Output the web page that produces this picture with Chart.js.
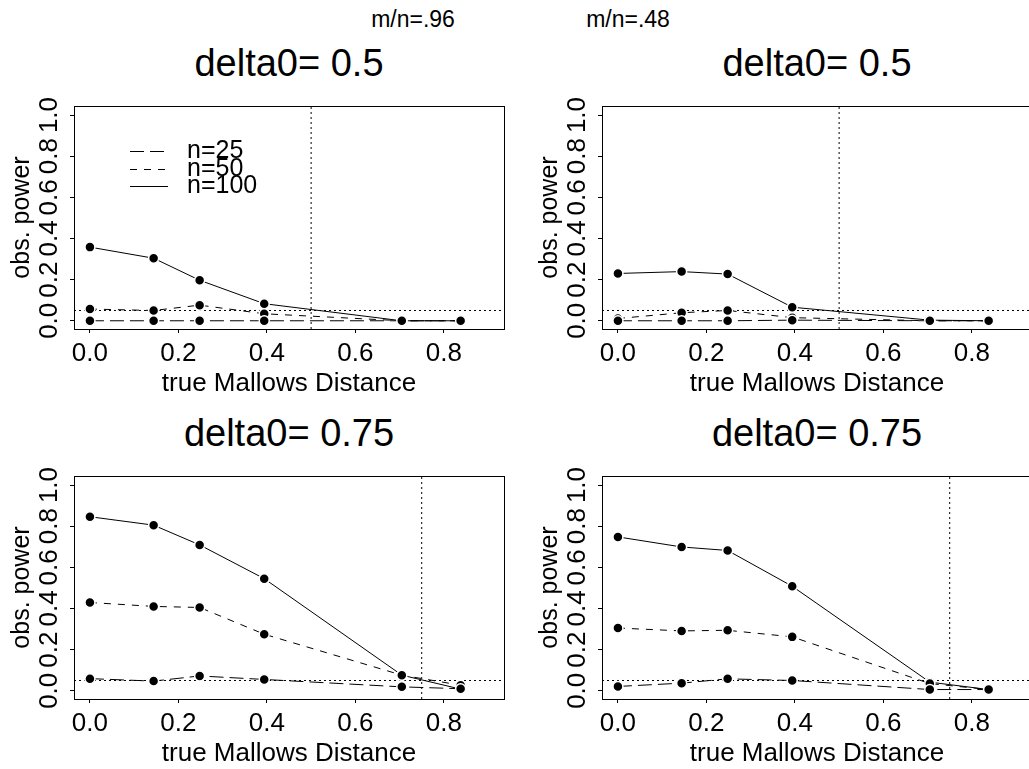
<!DOCTYPE html>
<html lang="en">
<head>
<meta charset="UTF-8">
<title>obs. power vs true Mallows Distance</title>
<script src="https://cdn.jsdelivr.net/npm/chart.js"></script>
<style>
  body { margin: 0; width: 1029px; height: 769px; overflow: hidden; background: #fff;
         font-family: "Liberation Sans", Arial, Helvetica, sans-serif; position: relative; }
  canvas { position: absolute; }
  .lbl { position: absolute; transform: translate(-50%, -50%); line-height: 1; white-space: nowrap; color: #000; }
  .title { font-size: 38px; }
  .mn { font-size: 23px; }
</style>
</head>
<body>
<div class="lbl mn" style="left:413px;top:19px">m/n=.96</div>
<div class="lbl mn" style="left:628px;top:19px">m/n=.48</div>
<div class="lbl title" style="left:289px;top:63px">delta0= 0.5</div>
<div class="lbl title" style="left:817px;top:63px">delta0= 0.5</div>
<div class="lbl title" style="left:289px;top:433px">delta0= 0.75</div>
<div class="lbl title" style="left:817px;top:433px">delta0= 0.75</div>

<canvas id="c1" width="514" height="410" style="left:0;top:0"></canvas>
<canvas id="c2" width="504" height="410" style="left:528px;top:0"></canvas>
<canvas id="c3" width="514" height="410" style="left:0;top:370px"></canvas>
<canvas id="c4" width="504" height="410" style="left:528px;top:370px"></canvas>

<script>
// true Mallows distance of the simulated alternatives
const distance = [0, 0.144, 0.248, 0.394, 0.705, 0.838];

// m/n=.96, delta0=0.5
const p1n25  = [0, 0, 0, 0, 0, 0];
const p1n50  = [0.057, 0.05, 0.076, 0.034, 0, 0];
const p1n100 = [0.358, 0.304, 0.197, 0.083, 0, 0];
// m/n=.48, delta0=0.5
const p2n25  = [0, 0, 0, 0.003, 0, 0];
const p2n50  = [0.011, 0.039, 0.05, 0.015, 0, 0];
const p2n100 = [0.23, 0.239, 0.227, 0.066, 0.003, 0];
// m/n=.96, delta0=0.75
const p3n25  = [0.059, 0.047, 0.072, 0.055, 0.019, 0.01];
const p3n50  = [0.429, 0.41, 0.405, 0.275, 0.076, 0.027];
const p3n100 = [0.846, 0.805, 0.709, 0.545, 0.076, 0.008];
// m/n=.48, delta0=0.75
const p4n25  = [0.021, 0.037, 0.058, 0.05, 0.006, 0.006];
const p4n50  = [0.305, 0.291, 0.294, 0.262, 0.035, 0.006];
const p4n100 = [0.748, 0.699, 0.682, 0.508, 0.042, 0.006];

const alpha = 0.05;
const X_MIN = -0.036, X_MAX = 0.936;
const Y_MIN = -0.04, Y_MAX = 1.044;
const FONT = '"Liberation Sans", Arial, Helvetica, sans-serif';

Chart.defaults.font.family = FONT;
Chart.defaults.color = '#000';

function series(label, values, dash) {
  return {
    label: label,
    data: distance.map((d, i) => ({ x: d, y: values[i] })),
    showLine: true,
    borderColor: '#000',
    borderWidth: 1,
    borderDash: dash,
    pointRadius: 5,
    pointBackgroundColor: '#000',
    pointBorderColor: '#fff',
    pointBorderWidth: 1.5
  };
}

function refLine(points) {
  return { data: points, showLine: true, borderColor: '#000', borderWidth: 1,
           borderDash: [2, 3], pointRadius: 0 };
}

// box around the plot region, like R's box()
const boxPlugin = {
  id: 'box',
  afterDraw(chart) {
    const a = chart.chartArea, ctx = chart.ctx;
    ctx.save();
    ctx.strokeStyle = '#000';
    ctx.lineWidth = 1;
    ctx.strokeRect(Math.round(a.left) + 0.5, Math.round(a.top) + 0.5,
                   Math.round(a.right - a.left), Math.round(a.bottom - a.top));
    ctx.restore();
  }
};

// legend drawn inside the plot, top left
const legendPlugin = {
  id: 'rLegend',
  afterDraw(chart, args, opts) {
    if (!opts.show) return;
    const { ctx, chartArea } = chart;
    const items = chart.data.datasets.filter(d => d.label);
    ctx.save();
    ctx.font = '25px ' + FONT;
    ctx.textBaseline = 'middle';
    ctx.fillStyle = '#000';
    ctx.strokeStyle = '#000';
    ctx.lineWidth = 1;
    items.forEach((d, i) => {
      const y = Math.round(chartArea.top + 45 + i * 17.5) + 0.5;
      ctx.beginPath();
      ctx.setLineDash(d.borderDash);
      ctx.moveTo(chartArea.left + 56, y);
      ctx.lineTo(chartArea.left + 94, y);
      ctx.stroke();
      ctx.setLineDash([]);
      ctx.fillText(d.label, chartArea.left + 113, y);
    });
    ctx.restore();
  }
};

function makePanel(id, n25, n50, n100, delta0, rightPad, showLegend) {
  const tickFont = { family: FONT, size: 26 };
  new Chart(document.getElementById(id), {
    type: 'scatter',
    data: {
      datasets: [
        series('n=25', n25, [14, 6]),
        series('n=50', n50, [7, 7]),
        series('n=100', n100, []),
        refLine([{ x: delta0, y: Y_MIN }, { x: delta0, y: Y_MAX }]),
        refLine([{ x: X_MIN, y: alpha }, { x: X_MAX, y: alpha }])
      ]
    },
    options: {
      responsive: false,
      animation: false,
      events: [],
      layout: { autoPadding: false, padding: { left: 0, top: 106, right: rightPad, bottom: 9 } },
      plugins: {
        legend: { display: false },
        tooltip: { enabled: false },
        rLegend: { show: showLegend }
      },
      scales: {
        x: {
          type: 'linear',
          min: X_MIN, max: X_MAX,
          afterFit: s => { s.height = 72; },
          border: { display: false },
          grid: { drawOnChartArea: false, drawTicks: true, tickLength: 4, color: '#000' },
          ticks: { stepSize: 0.2, includeBounds: false, autoSkip: false, maxRotation: 0,
                   padding: 5, color: '#000', font: tickFont, callback: v => v.toFixed(1) },
          title: { display: true, text: 'true Mallows Distance', color: '#000', font: tickFont,
                   padding: { top: 0, bottom: 2 } }
        },
        y: {
          type: 'linear',
          min: Y_MIN, max: Y_MAX,
          afterFit: s => { s.width = 74; },
          border: { display: false },
          grid: { drawOnChartArea: false, drawTicks: true, tickLength: 4, color: '#000' },
          ticks: { stepSize: 0.2, includeBounds: false, autoSkip: false, minRotation: 90, maxRotation: 90,
                   crossAlign: 'center', padding: 2, color: '#000', font: tickFont,
                   callback: v => v.toFixed(1) },
          title: { display: true, text: 'obs. power', color: '#000', font: { family: FONT, size: 25 },
                   padding: { top: 7, bottom: 0 } }
        }
      }
    },
    plugins: [boxPlugin, legendPlugin]
  });
}

makePanel('c1', p1n25, p1n50, p1n100, 0.5, 10, true);
makePanel('c2', p2n25, p2n50, p2n100, 0.5, 0, false);
makePanel('c3', p3n25, p3n50, p3n100, 0.75, 10, false);
makePanel('c4', p4n25, p4n50, p4n100, 0.75, 0, false);
</script>
</body>
</html>
